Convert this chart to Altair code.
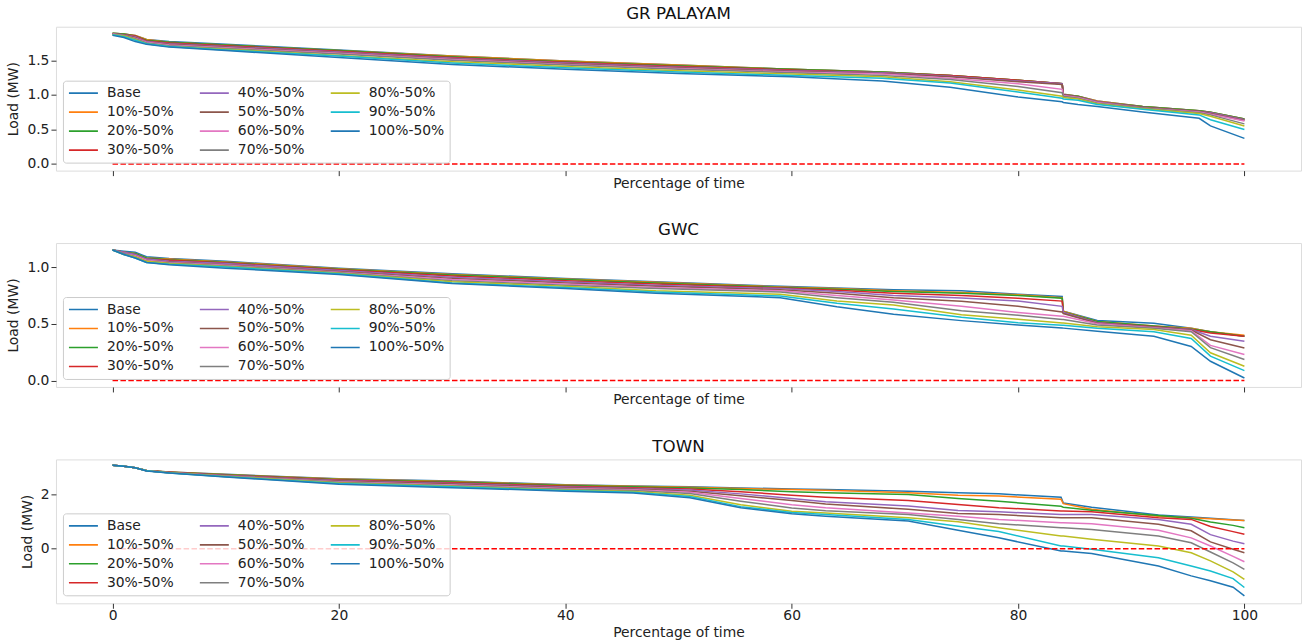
import altair as alt
import pandas as pd

SERIES = ["Base", "10%-50%", "20%-50%", "30%-50%", "40%-50%", "50%-50%",
          "60%-50%", "70%-50%", "80%-50%", "90%-50%", "100%-50%"]
COLORS = ["#1f77b4", "#ff7f0e", "#2ca02c", "#d62728", "#9467bd", "#8c564b",
          "#e377c2", "#7f7f7f", "#bcbd22", "#17becf", "#1f77b4"]
X_TICKS = [0, 20, 40, 60, 80, 100]
ZERO_X = [0, 100]

# ---------------- GR PALAYAM ----------------
gr_x = [0, 1, 2, 3, 5, 10, 20, 30, 40, 50, 60, 68, 74, 80, 83.9, 84, 85.3, 87, 91, 96, 97, 100]
gr_base = [1.89, 1.88, 1.86, 1.80, 1.77, 1.73, 1.65, 1.56, 1.49, 1.43, 1.37, 1.33, 1.28, 1.21, 1.16, 1.01, 0.98, 0.91, 0.83, 0.77, 0.75, 0.65]
gr_10 = [1.89, 1.88, 1.86, 1.80, 1.76, 1.72, 1.64, 1.56, 1.49, 1.43, 1.37, 1.33, 1.28, 1.21, 1.16, 1.01, 0.98, 0.91, 0.83, 0.77, 0.75, 0.65]
gr_20 = [1.89, 1.88, 1.85, 1.79, 1.76, 1.72, 1.64, 1.55, 1.48, 1.42, 1.37, 1.33, 1.28, 1.21, 1.16, 1.00, 0.98, 0.90, 0.83, 0.77, 0.75, 0.65]
gr_30 = [1.88, 1.87, 1.85, 1.78, 1.75, 1.71, 1.63, 1.54, 1.47, 1.41, 1.36, 1.32, 1.28, 1.21, 1.16, 1.00, 0.97, 0.90, 0.82, 0.76, 0.74, 0.64]
gr_40 = [1.88, 1.87, 1.84, 1.77, 1.74, 1.70, 1.62, 1.53, 1.46, 1.40, 1.35, 1.32, 1.27, 1.20, 1.16, 1.00, 0.97, 0.90, 0.82, 0.76, 0.74, 0.64]
gr_50 = [1.88, 1.87, 1.83, 1.76, 1.73, 1.69, 1.61, 1.52, 1.45, 1.39, 1.34, 1.31, 1.26, 1.19, 1.15, 1.00, 0.97, 0.89, 0.82, 0.76, 0.73, 0.63]
gr_60 = [1.88, 1.86, 1.82, 1.76, 1.72, 1.68, 1.60, 1.51, 1.44, 1.38, 1.33, 1.30, 1.24, 1.16, 1.08, 0.99, 0.96, 0.89, 0.81, 0.75, 0.72, 0.62]
gr_70 = [1.87, 1.86, 1.81, 1.75, 1.71, 1.67, 1.59, 1.50, 1.43, 1.37, 1.32, 1.28, 1.22, 1.12, 1.03, 0.98, 0.95, 0.88, 0.81, 0.74, 0.71, 0.58]
gr_80 = [1.87, 1.85, 1.80, 1.74, 1.70, 1.66, 1.57, 1.48, 1.41, 1.35, 1.30, 1.26, 1.19, 1.07, 0.98, 0.96, 0.94, 0.87, 0.80, 0.73, 0.69, 0.55]
gr_90 = [1.87, 1.84, 1.79, 1.74, 1.70, 1.65, 1.56, 1.46, 1.39, 1.33, 1.28, 1.24, 1.17, 1.04, 0.95, 0.94, 0.92, 0.86, 0.79, 0.71, 0.64, 0.50]
gr_100 = [1.86, 1.83, 1.77, 1.73, 1.69, 1.64, 1.54, 1.44, 1.37, 1.31, 1.26, 1.20, 1.11, 0.97, 0.90, 0.89, 0.86, 0.83, 0.75, 0.66, 0.55, 0.37]

# ---------------- GWC ----------------
gwc_x = [0, 1, 2, 3, 5, 10, 20, 30, 40, 48, 59, 64, 69, 75, 80, 83.9, 84, 87, 92, 95.3, 97, 100]
gwc_base = [1.15, 1.14, 1.13, 1.09, 1.075, 1.05, 0.99, 0.94, 0.90, 0.87, 0.83, 0.815, 0.80, 0.79, 0.76, 0.74, 0.61, 0.53, 0.505, 0.46, 0.43, 0.39]
gwc_10 = [1.15, 1.13, 1.12, 1.08, 1.07, 1.045, 0.985, 0.935, 0.895, 0.865, 0.825, 0.81, 0.79, 0.775, 0.755, 0.73, 0.61, 0.52, 0.48, 0.46, 0.43, 0.40]
gwc_20 = [1.15, 1.13, 1.12, 1.08, 1.065, 1.04, 0.98, 0.93, 0.89, 0.86, 0.82, 0.805, 0.785, 0.77, 0.75, 0.725, 0.605, 0.52, 0.48, 0.455, 0.43, 0.39]
gwc_30 = [1.15, 1.13, 1.11, 1.07, 1.06, 1.035, 0.975, 0.92, 0.88, 0.85, 0.815, 0.795, 0.77, 0.75, 0.725, 0.70, 0.60, 0.51, 0.475, 0.45, 0.42, 0.39]
gwc_40 = [1.15, 1.13, 1.11, 1.07, 1.05, 1.03, 0.97, 0.91, 0.87, 0.84, 0.81, 0.785, 0.75, 0.727, 0.70, 0.654, 0.60, 0.51, 0.47, 0.45, 0.39, 0.346]
gwc_50 = [1.15, 1.12, 1.10, 1.06, 1.045, 1.02, 0.96, 0.90, 0.86, 0.83, 0.80, 0.77, 0.73, 0.698, 0.655, 0.604, 0.59, 0.505, 0.47, 0.445, 0.36, 0.287]
gwc_60 = [1.15, 1.12, 1.10, 1.06, 1.04, 1.015, 0.955, 0.89, 0.85, 0.82, 0.79, 0.75, 0.71, 0.654, 0.60, 0.566, 0.566, 0.50, 0.465, 0.44, 0.31, 0.229]
gwc_70 = [1.15, 1.12, 1.09, 1.05, 1.035, 1.01, 0.95, 0.88, 0.84, 0.81, 0.78, 0.73, 0.69, 0.616, 0.575, 0.537, 0.537, 0.49, 0.46, 0.43, 0.29, 0.185]
gwc_80 = [1.15, 1.11, 1.09, 1.05, 1.03, 1.005, 0.945, 0.87, 0.83, 0.79, 0.76, 0.70, 0.665, 0.58, 0.54, 0.507, 0.507, 0.475, 0.45, 0.40, 0.245, 0.126]
gwc_90 = [1.15, 1.11, 1.08, 1.04, 1.025, 1.00, 0.94, 0.86, 0.82, 0.78, 0.745, 0.68, 0.63, 0.557, 0.51, 0.487, 0.487, 0.46, 0.43, 0.37, 0.215, 0.088]
gwc_100 = [1.15, 1.11, 1.08, 1.04, 1.02, 0.99, 0.935, 0.855, 0.81, 0.77, 0.73, 0.65, 0.585, 0.528, 0.49, 0.463, 0.462, 0.434, 0.39, 0.30, 0.17, 0.023]

# ---------------- TOWN ----------------
town_x = [0, 1, 2, 3, 5, 10, 20, 30, 40, 46, 51, 55.5, 60, 63, 70.3, 74.7, 78.3, 83.8, 84, 86.5, 92.4, 95.3, 97, 99, 100]
town_base = [3.07, 3.04, 2.98, 2.88, 2.83, 2.74, 2.58, 2.49, 2.36, 2.31, 2.28, 2.24, 2.20, 2.18, 2.12, 2.06, 2.02, 1.90, 1.68, 1.53, 1.24, 1.17, 1.12, 1.07, 1.04]
town_10 = [3.07, 3.04, 2.98, 2.88, 2.83, 2.73, 2.57, 2.48, 2.35, 2.30, 2.26, 2.22, 2.18, 2.15, 2.06, 1.97, 1.94, 1.82, 1.66, 1.45, 1.20, 1.14, 1.10, 1.06, 1.04]
town_20 = [3.07, 3.04, 2.98, 2.88, 2.82, 2.72, 2.55, 2.46, 2.33, 2.28, 2.24, 2.18, 2.10, 2.06, 2.00, 1.85, 1.75, 1.56, 1.53, 1.42, 1.22, 1.12, 0.98, 0.86, 0.77]
town_30 = [3.07, 3.04, 2.98, 2.88, 2.82, 2.71, 2.53, 2.43, 2.30, 2.25, 2.20, 2.10, 1.97, 1.90, 1.78, 1.63, 1.51, 1.39, 1.39, 1.36, 1.14, 1.08, 0.82, 0.63, 0.53]
town_40 = [3.07, 3.04, 2.98, 2.87, 2.81, 2.70, 2.51, 2.40, 2.27, 2.22, 2.16, 2.02, 1.85, 1.73, 1.57, 1.41, 1.36, 1.26, 1.26, 1.26, 1.08, 0.90, 0.52, 0.28, 0.18]
town_50 = [3.07, 3.04, 2.98, 2.87, 2.81, 2.69, 2.49, 2.38, 2.25, 2.20, 2.12, 1.95, 1.78, 1.65, 1.45, 1.30, 1.26, 1.14, 1.14, 1.14, 0.90, 0.66, 0.25, -0.02, -0.15]
town_60 = [3.07, 3.04, 2.98, 2.87, 2.80, 2.68, 2.47, 2.35, 2.22, 2.17, 2.08, 1.85, 1.62, 1.51, 1.32, 1.20, 1.08, 0.96, 0.96, 0.92, 0.68, 0.40, 0.10, -0.28, -0.48]
town_70 = [3.07, 3.04, 2.98, 2.87, 2.80, 2.67, 2.45, 2.32, 2.19, 2.14, 2.03, 1.75, 1.50, 1.40, 1.26, 1.08, 0.92, 0.77, 0.77, 0.71, 0.47, 0.22, -0.12, -0.52, -0.76]
town_80 = [3.07, 3.04, 2.98, 2.87, 2.80, 2.66, 2.42, 2.30, 2.16, 2.11, 1.97, 1.62, 1.38, 1.32, 1.14, 0.99, 0.77, 0.47, 0.47, 0.35, 0.10, -0.15, -0.45, -0.85, -1.13]
town_90 = [3.07, 3.04, 2.98, 2.87, 2.79, 2.65, 2.40, 2.28, 2.14, 2.08, 1.92, 1.55, 1.33, 1.26, 1.08, 0.83, 0.63, 0.10, 0.10, -0.02, -0.33, -0.64, -0.82, -1.10, -1.43]
town_100 = [3.07, 3.04, 2.98, 2.86, 2.79, 2.64, 2.37, 2.25, 2.12, 2.05, 1.88, 1.51, 1.29, 1.20, 1.02, 0.68, 0.40, -0.08, -0.08, -0.18, -0.64, -1.00, -1.18, -1.42, -1.74]

GR = [gr_base, gr_10, gr_20, gr_30, gr_40, gr_50, gr_60, gr_70, gr_80, gr_90, gr_100]
GWC = [gwc_base, gwc_10, gwc_20, gwc_30, gwc_40, gwc_50, gwc_60, gwc_70, gwc_80, gwc_90, gwc_100]
TOWN = [town_base, town_10, town_20, town_30, town_40, town_50, town_60, town_70, town_80, town_90, town_100]


def long_frame(xs, cols):
    rows = []
    for k, (name, ys) in enumerate(zip(SERIES, cols)):
        for i, (xv, yv) in enumerate(zip(xs, ys)):
            rows.append({"x": xv, "y": yv, "series": name, "k": k, "i": i})
    return pd.DataFrame(rows)


FONT = "DejaVu Sans"
FS = 13.9
W = 1246
H = 144


def panel(title, xs, cols, ydomain, yticks, yfmt, show_xlabels):
    df = long_frame(xs, cols)
    zero_df = pd.DataFrame({"x": ZERO_X, "y": [0, 0]})
    xaxis = alt.Axis(values=X_TICKS, labels=show_xlabels, title="Percentage of time",
                     grid=False, domain=False, tickSize=5, tickColor="#333",
                     labelFontSize=FS, labelFont=FONT, labelColor="#222", labelPadding=0,
                     titleFontSize=FS, titleFont=FONT, titleFontWeight="normal",
                     titleColor="#222", titlePadding=3 if show_xlabels else 0)
    yaxis = alt.Axis(values=yticks, format=yfmt, title="Load (MW)", grid=False, domain=False,
                     tickSize=5, tickColor="#333", labelFontSize=FS, labelFont=FONT,
                     labelColor="#222", labelPadding=2, titleFontSize=FS, titleFont=FONT,
                     titleFontWeight="normal", titleColor="#222", titlePadding=6)
    xs_scale = alt.Scale(domain=[-5, 105], nice=False, zero=False)
    ys_scale = alt.Scale(domain=ydomain, nice=False, zero=False)
    lines = alt.Chart(df).mark_line(strokeWidth=1.5).encode(
        x=alt.X("x:Q", scale=xs_scale, axis=xaxis),
        y=alt.Y("y:Q", scale=ys_scale, axis=yaxis),
        color=alt.Color("series:N",
                        scale=alt.Scale(domain=SERIES, range=COLORS),
                        legend=alt.Legend(title=None, orient="none", legendX=7, legendY=54,
                                          columns=3, symbolType="stroke", symbolSize=841,
                                          symbolStrokeWidth=1.6, labelFontSize=FS,
                                          labelFont=FONT, labelColor="#222", labelOffset=8,
                                          columnPadding=25, rowPadding=4, padding=5,
                                          clipHeight=15,
                                          fillColor="rgba(255,255,255,0.8)",
                                          strokeColor="#cccccc", cornerRadius=3)),
        order=alt.Order("i:Q"),
    )
    zero = alt.Chart(zero_df).mark_line(color="#ff0000", strokeWidth=1.5,
                                        strokeDash=[5.5, 2.4]).encode(
        x=alt.X("x:Q", scale=xs_scale, axis=xaxis),
        y=alt.Y("y:Q", scale=ys_scale, axis=yaxis),
    )
    return alt.layer(lines, zero).properties(
        width=W, height=H,
        title=alt.TitleParams(title, fontSize=16.7, font=FONT, fontWeight="normal",
                              color="#111", offset=4, anchor="middle"),
    )


p1 = panel("GR PALAYAM", gr_x, GR, [-0.096, 1.985], [0.0, 0.5, 1.0, 1.5], ".1f", False)
p2 = panel("GWC", gwc_x, GWC, [-0.056, 1.211], [0.0, 0.5, 1.0], ".1f", False)
p3 = panel("TOWN", town_x, TOWN, [-2.01, 3.29], [0, 2], "d", True)

chart = alt.vconcat(p1, p2, p3, spacing=30.5).resolve_legend(color="independent").properties(
    padding={"left": 6, "top": 4.5, "right": 1, "bottom": 0}
).configure_view(stroke="#333", strokeWidth=1).configure(background="white")

chart.save("out.html", embed_options={"renderer": "svg", "actions": False})
